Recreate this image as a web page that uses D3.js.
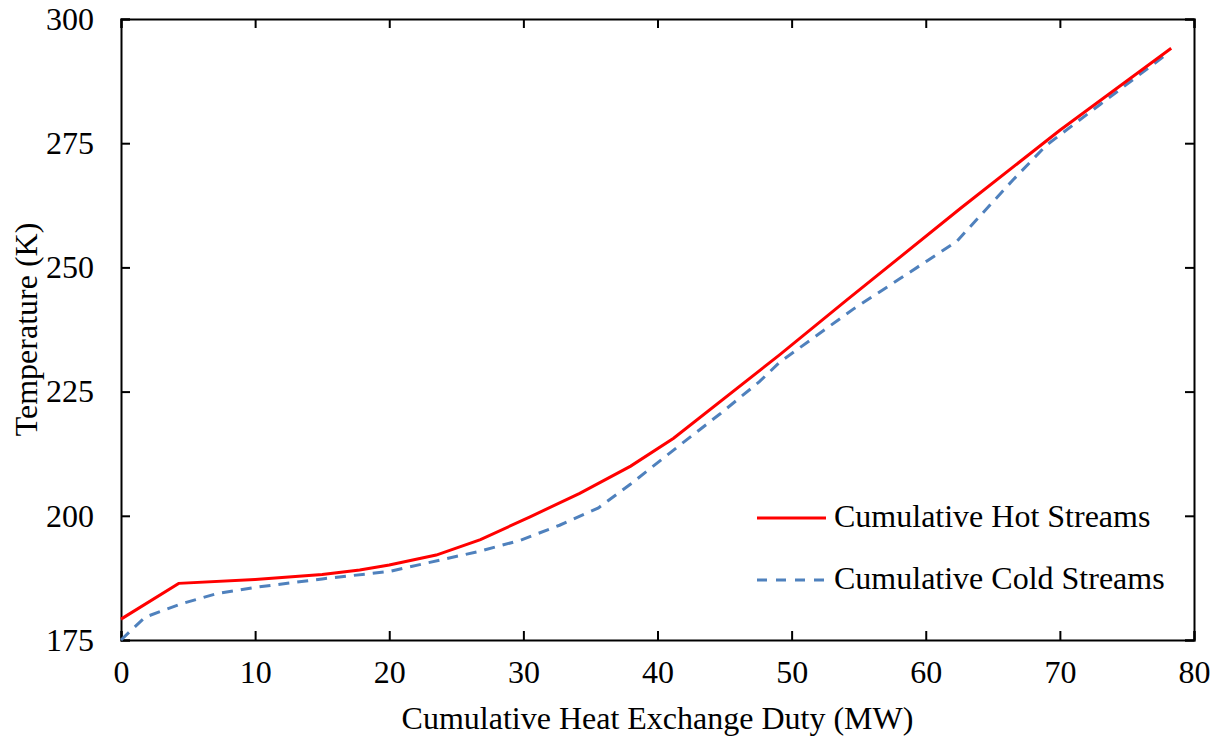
<!DOCTYPE html>
<html>
<head>
<meta charset="utf-8">
<script src="https://cdn.jsdelivr.net/npm/d3@7"></script>
<style>
  html, body { margin: 0; padding: 0; background: #fff; }
  svg text { font-family: "Liberation Serif", "Times New Roman", serif; fill: #000; }
</style>
</head>
<body>
<div id="chart"></div>
<script>
// Composite curves
const hotDuty  = [0, 4.3, 10, 15, 17.8, 20, 23.5, 26.8, 30.5, 34.2, 38, 41.2, 49.1, 54.1, 62.6, 70, 78.3];
const hotTemp  = [179.2, 186.4, 187.2, 188.2, 189.1, 190.1, 192.1, 195.2, 199.8, 204.5, 210.0, 215.6, 232.4, 243.4, 261.9, 277.6, 294.1];

const coldDuty = [0, 1.8, 4.5, 7.1, 10, 15, 20, 23.8, 26.8, 29.8, 32.7, 35.6, 38, 41.7, 44.7, 47.6, 49.1, 54.7, 58, 62.3, 66.5, 69, 73, 77.9];
const coldTemp = [175, 179.6, 182.3, 184.3, 185.6, 187.3, 188.8, 191.1, 192.9, 195.1, 198.1, 201.6, 206.4, 214.3, 220.6, 227.0, 230.9, 241.8, 247.6, 255.2, 267.6, 274.6, 282.8, 292.8];

const xTicks = [0, 10, 20, 30, 40, 50, 60, 70, 80];
const yTicks = [175, 200, 225, 250, 275, 300];

const seriesNames = ['Cumulative Hot Streams', 'Cumulative Cold Streams'];

// Chart dimensions
const width = 1217,
      height = 740,
      margin = {top: 19, right: 23, bottom: 100, left: 121};

const FONT = '"Liberation Serif", "Times New Roman", serif';

const x = d3.scaleLinear()
    .domain([0, 80])
    .range([margin.left, width - margin.right]);

const y = d3.scaleLinear()
    .domain([175, 300])
    .range([height - margin.bottom, margin.top]);

const svg = d3.select('#chart').append('svg')
    .attr('width', width)
    .attr('height', height);

svg.append('rect')
   .attr('width', width)
   .attr('height', height)
   .attr('fill', '#fff');

const tickLen = 9;

// Style helper for every axis group
function styleAxis(g) {
  g.attr('font-family', FONT).attr('font-size', 32);
  g.selectAll('text').attr('fill', '#000');
  g.selectAll('line, path').attr('stroke', '#000').attr('stroke-width', 2);
}

// Axes - ticks point inward on all four sides
svg.append('g')
   .attr('transform', `translate(0,${y(175)})`)
   .call(d3.axisBottom(x).tickValues(xTicks).tickSize(-tickLen).tickPadding(20))
   .call(styleAxis);

svg.append('g')
   .attr('transform', `translate(${x(0)},0)`)
   .call(d3.axisLeft(y).tickValues(yTicks).tickSize(-tickLen).tickPadding(27))
   .call(styleAxis);

svg.append('g')
   .attr('transform', `translate(0,${y(300)})`)
   .call(d3.axisTop(x).tickValues(xTicks).tickSize(-tickLen).tickFormat(''))
   .call(styleAxis);

svg.append('g')
   .attr('transform', `translate(${x(80)},0)`)
   .call(d3.axisRight(y).tickValues(yTicks).tickSize(-tickLen).tickFormat(''))
   .call(styleAxis);

// Axis labels
svg.append('text')
   .attr('text-anchor', 'middle')
   .attr('font-size', 32)
   .attr('x', (x(0) + x(80)) / 2)
   .attr('y', 729)
   .text('Cumulative Heat Exchange Duty (MW)');

svg.append('text')
   .attr('text-anchor', 'middle')
   .attr('font-size', 32)
   .attr('transform', 'rotate(-90)')
   .attr('x', -(y(175) + y(300)) / 2)
   .attr('y', 37)
   .text('Temperature (K)');

// Lines
const lineGen = d3.line()
    .x(d => x(d[0]))
    .y(d => y(d[1]));

const hot = hotDuty.map((d, i) => [d, hotTemp[i]]);
const cold = coldDuty.map((d, i) => [d, coldTemp[i]]);

svg.append('path')
   .datum(cold)
   .attr('fill', 'none')
   .attr('stroke', '#4f81bd')
   .attr('stroke-width', 3)
   .attr('stroke-dasharray', '11,8')
   .attr('d', lineGen);

svg.append('path')
   .datum(hot)
   .attr('fill', 'none')
   .attr('stroke', '#ff0000')
   .attr('stroke-width', 3)
   .attr('d', lineGen);

// Legend
const legend = svg.append('g').attr('transform', 'translate(757,518)');
const legendStyles = [
  {stroke: '#ff0000', dash: null},
  {stroke: '#4f81bd', dash: '10,9'}
];

seriesNames.forEach((name, i) => {
  const row = legend.append('g').attr('transform', `translate(0,${i * 62})`);
  row.append('line')
     .attr('x1', 0).attr('x2', 69)
     .attr('y1', 0).attr('y2', 0)
     .attr('stroke', legendStyles[i].stroke)
     .attr('stroke-width', 3)
     .attr('stroke-dasharray', legendStyles[i].dash);
  row.append('text')
     .attr('x', 77)
     .attr('y', 9)
     .attr('font-size', 32)
     .text(name);
});
</script>
</body>
</html>
